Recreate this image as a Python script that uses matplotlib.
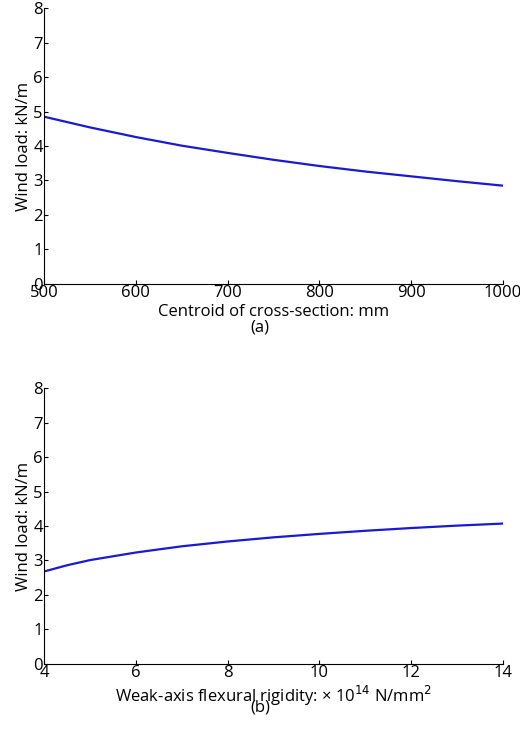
import matplotlib
matplotlib.use('Agg')
from matplotlib import rcParams
rcParams['font.family'] = ['Open Sans', 'DejaVu Sans']
import matplotlib.pyplot as plt

centroid = [500, 550, 600, 650, 700, 750, 800, 850, 900, 950, 1000]
load_a = [4.85, 4.54, 4.26, 4.01, 3.80, 3.60, 3.42, 3.26, 3.12, 2.98, 2.85]

rigidity = [4, 4.5, 5, 5.5, 6, 7, 8, 9, 10, 11, 12, 13, 14]
load_b = [2.68, 2.86, 3.01, 3.12, 3.23, 3.41, 3.55, 3.67, 3.77, 3.86, 3.94, 4.01, 4.07]


def style(ax, xlim, xticks):
    ax.set_xlim(xlim)
    ax.set_ylim(0, 8)
    ax.set_xticks(xticks)
    ax.set_yticks(range(0, 9))
    ax.spines['top'].set_visible(False)
    ax.spines['right'].set_visible(False)
    ax.tick_params(direction='in', length=3, labelsize=12, pad=1)
    ax.set_ylabel('Wind load: kN/m', fontsize=12, labelpad=1)


fig = plt.figure(figsize=(5.2, 7.45), dpi=100)
ax1 = fig.add_axes([0.085, 0.619, 0.882, 0.370])
ax2 = fig.add_axes([0.085, 0.109, 0.882, 0.370])

ax1.plot(centroid, load_a, color='#1a1ad0', lw=1.6)
style(ax1, (500, 1000), range(500, 1001, 100))
ax1.set_xlabel('Centroid of cross-section: mm', fontsize=12, labelpad=2)
fig.text(0.5, 0.555, '(a)', ha='center', fontsize=12)

ax2.plot(rigidity, load_b, color='#1a1ad0', lw=1.6)
style(ax2, (4, 14), range(4, 15, 2))
ax2.set_xlabel('Weak-axis flexural rigidity: × 10$^{14}$ N/mm$^{2}$', fontsize=12, labelpad=2)
fig.text(0.5, 0.045, '(b)', ha='center', fontsize=12)

plt.savefig('out.png', dpi=100)
